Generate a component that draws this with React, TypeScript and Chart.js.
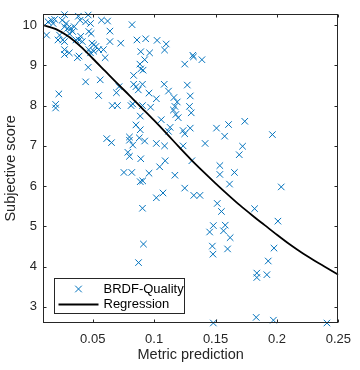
import React, { useEffect, useRef } from "react";
import { Chart, registerables } from "chart.js";

Chart.register(...registerables);

// ---- data ----
const metricPrediction = [
  0.0124, 0.0137, 0.0164, 0.019, 0.0177, 0.027, 0.0251, 0.0283, 0.027, 0.0296,
  0.0323, 0.0336, 0.0309, 0.0349, 0.0383, 0.0397, 0.0463, 0.0442, 0.0482, 0.0468,
  0.0487, 0.0402, 0.0389, 0.0415, 0.023, 0.0217, 0.0256, 0.027, 0.027, 0.0309,
  0.0389, 0.0375, 0.0494, 0.0508, 0.0526, 0.0548, 0.0508, 0.0482, 0.0587, 0.0601,
  0.0463, 0.0561, 0.0548, 0.0442, 0.0224, 0.0198, 0.0198, 0.0621, 0.064, 0.064,
  0.0659, 0.0701, 0.0693, 0.0571, 0.0363, 0.0468, 0.027,
  0.082, 0.0728, 0.086, 0.0931, 0.1024, 0.1098, 0.1085, 0.0891, 0.0963, 0.0923,
  0.0884, 0.0891, 0.091, 0.0833, 0.1315, 0.132, 0.1249, 0.1389, 0.0833, 0.0852,
  0.0905, 0.0871, 0.0714, 0.1082, 0.0958, 0.1117, 0.127, 0.1018, 0.1161, 0.1294,
  0.0826, 0.0812, 0.0905, 0.0971, 0.1188, 0.1169, 0.1288,
  0.1157, 0.1177, 0.1196, 0.1302, 0.0887, 0.1058, 0.0852, 0.0887, 0.113, 0.1117,
  0.1236, 0.1249, 0.1294, 0.0799, 0.0799, 0.0879, 0.0923, 0.0826, 0.1018, 0.1085,
  0.1236, 0.1415, 0.0786, 0.0799, 0.0891, 0.109, 0.1045, 0.1307, 0.0754, 0.0818,
  0.0958, 0.1169, 0.0887, 0.0907, 0.1249, 0.1072, 0.1018, 0.1323, 0.1373, 0.0905,
  0.0614, 0.0653,
  0.1508, 0.1606, 0.1574, 0.1738, 0.1963, 0.172, 0.1693, 0.1535, 0.1535, 0.1654,
  0.1614, 0.2035, 0.1514, 0.1548, 0.1818, 0.2008, 0.1579, 0.1565, 0.1619, 0.1598,
  0.1976, 0.1929, 0.1918, 0.1836, 0.1836, 0.1831, 0.1971, 0.2407,
  0.0913, 0.0873, 0.1482, 0.1452, 0.1474, 0.1479, 0.1482,
];
const subjectiveScore = [
  9.75, 10.08, 10.12, 10.14, 10.04, 10.26, 10.12, 10.04, 9.96, 9.92,
  9.92, 9.84, 9.79, 9.96, 10.22, 10.12, 10.25, 10.08, 10.04, 9.84,
  9.79, 9.72, 9.63, 9.59, 9.75, 9.63, 9.63, 9.39, 9.27, 9.31,
  9.23, 9.19, 9.55, 9.51, 9.47, 9.39, 9.35, 9.31, 9.39, 9.19,
  8.95, 8.64, 8.25, 8.59, 8.29, 8.03, 7.94, 10.1, 9.85, 9.59,
  8.0, 8.0, 8.32, 10.12, 9.63, 9.39, 9.59,
  10.01, 9.55, 9.63, 9.66, 9.62, 9.53, 9.38, 9.34, 9.31, 9.14,
  9.03, 8.91, 8.88, 8.75, 9.25, 9.21, 9.03, 9.14, 8.53, 8.47,
  8.53, 8.39, 8.47, 8.53, 8.31, 8.36, 8.51, 8.17, 8.2, 8.24,
  8.04, 8.0, 8.0, 7.96, 8.09, 7.98, 7.98,
  7.89, 7.78, 7.7, 7.82, 7.74, 7.65, 7.52, 7.4, 7.46, 7.36,
  7.38, 7.3, 7.44, 7.22, 7.14, 7.2, 7.12, 7.02, 7.06, 7.0,
  7.0, 7.06, 6.84, 6.74, 6.68, 6.63, 6.48, 6.63, 6.34, 6.34,
  6.32, 6.27, 6.11, 6.13, 5.95, 5.83, 5.71, 5.77, 5.77, 5.45,
  7.18, 7.08,
  7.44, 7.53, 7.24, 7.61, 7.28, 6.99, 6.78, 6.51, 6.29, 6.34,
  6.05, 5.98, 5.57, 5.37, 5.44, 5.13, 5.03, 4.89, 4.72, 4.44,
  4.46, 4.14, 3.8, 3.84, 3.73, 2.74, 2.67, 2.6,
  4.56, 4.1, 5.02, 4.86, 4.51, 4.31, 2.6,
];
const regressionX = [
  0.0095, 0.02, 0.03, 0.04, 0.05, 0.06, 0.07, 0.08, 0.09, 0.1, 0.11, 0.12, 0.13,
  0.14, 0.15, 0.16, 0.17, 0.18, 0.19, 0.2, 0.21, 0.22, 0.23, 0.24, 0.25,
];
const regressionY = [
  10.0, 9.9, 9.72, 9.47, 9.17, 8.86, 8.55, 8.25, 7.94, 7.63, 7.31, 6.98, 6.66,
  6.36, 6.07, 5.79, 5.52, 5.27, 5.03, 4.79, 4.56, 4.35, 4.16, 3.98, 3.8,
];

const xTicks = [0.05, 0.1, 0.15, 0.2, 0.25];
const yTicks = [3, 4, 5, 6, 7, 8, 9, 10];
const seriesNames = ["BRDF-Quality", "Regression"];
const axisTitles = { x: "Metric prediction", y: "Subjective score" };

const BLUE = "#0072BD";
const AXIS = "#262626";
const FONT = "'Liberation Sans', Arial, Helvetica, sans-serif";

const axesBoxPlugin = {
  id: "axesBox",
  afterDatasetsDraw(chart: any) {
    const { ctx, chartArea: a, scales } = chart;
    ctx.save();
    ctx.strokeStyle = AXIS;
    ctx.lineWidth = 1;
    const L = Math.round(a.left) + 0.5;
    const R = Math.round(a.right) - 0.5;
    const T = Math.round(a.top) + 0.5;
    const B = Math.round(a.bottom) - 0.5;
    ctx.strokeRect(L, T, R - L, B - T);
    const tl = 3;
    ctx.beginPath();
    xTicks.forEach((v) => {
      const x = Math.round(scales.x.getPixelForValue(v)) + 0.5;
      ctx.moveTo(x, B);
      ctx.lineTo(x, B - tl);
      ctx.moveTo(x, T);
      ctx.lineTo(x, T + tl);
    });
    yTicks.forEach((v) => {
      const y = Math.round(scales.y.getPixelForValue(v)) + 0.5;
      ctx.moveTo(L, y);
      ctx.lineTo(L + tl, y);
      ctx.moveTo(R, y);
      ctx.lineTo(R - tl, y);
    });
    ctx.stroke();

    // legend box (inside, lower-left)
    const bx = Math.round(a.left) + 11.5;
    const bw = 130;
    const bh = 35;
    const by = Math.round(a.bottom) - 9.5 - bh;
    ctx.fillStyle = "#ffffff";
    ctx.fillRect(bx, by, bw, bh);
    ctx.strokeStyle = AXIS;
    ctx.lineWidth = 1;
    ctx.strokeRect(bx, by, bw, bh);

    const r1 = by + 10.5;
    const r2 = by + 26;
    ctx.strokeStyle = BLUE;
    ctx.lineWidth = 1;
    ctx.beginPath();
    const mx = bx + 24;
    const d = 3.3;
    ctx.moveTo(mx - d, r1 - d);
    ctx.lineTo(mx + d, r1 + d);
    ctx.moveTo(mx - d, r1 + d);
    ctx.lineTo(mx + d, r1 - d);
    ctx.stroke();
    ctx.strokeStyle = "#000";
    ctx.lineWidth = 1.8;
    ctx.beginPath();
    ctx.moveTo(bx + 4, r2);
    ctx.lineTo(bx + 44, r2);
    ctx.stroke();

    ctx.fillStyle = "#000";
    ctx.font = `13px ${FONT}`;
    ctx.textBaseline = "middle";
    ctx.textAlign = "left";
    ctx.fillText(seriesNames[0], bx + 49, r1);
    ctx.fillText(seriesNames[1], bx + 49, r2);
    ctx.restore();
  },
};

export default function App() {
  const ref = useRef<HTMLCanvasElement | null>(null);

  useEffect(() => {
    document.body.style.margin = "0";
    const canvas = ref.current;
    if (!canvas) return;
    const scatterPts = metricPrediction.map((x, i) => ({ x, y: subjectiveScore[i] }));
    const regPts = regressionX.map((x, i) => ({ x, y: regressionY[i] }));

    const chart = new Chart(canvas, {
      type: "scatter",
      data: {
        datasets: [
          {
            label: seriesNames[0],
            data: scatterPts,
            pointStyle: "crossRot",
            pointRadius: 4.6,
            pointHoverRadius: 4.6,
            borderColor: BLUE,
            backgroundColor: BLUE,
            borderWidth: 1,
            clip: false as any,
            order: 2,
          },
          {
            label: seriesNames[1],
            data: regPts,
            showLine: true,
            pointRadius: 0,
            borderColor: "#000",
            backgroundColor: "#000",
            borderWidth: 1.8,
            cubicInterpolationMode: "monotone",
            order: 1,
          } as any,
        ],
      },
      options: {
        responsive: false,
        animation: false,
        events: [],
        layout: { padding: { top: 5, right: 13, left: 0, bottom: 0 } },
        plugins: {
          legend: { display: false },
          tooltip: { enabled: false },
        },
        scales: {
          x: {
            type: "linear",
            min: 0.0095,
            max: 0.25,
            grid: { display: false, drawTicks: false },
            border: { display: false },
            afterBuildTicks: (s: any) => {
              s.ticks = xTicks.map((v) => ({ value: v }));
            },
            afterFit: (s: any) => {
              s.height = 47;
            },
            ticks: {
              padding: 9,
              color: AXIS,
              font: { family: FONT, size: 13 },
              maxRotation: 0,
              callback: (v: any) => String(v),
            },
            title: {
              display: true,
              text: axisTitles.x,
              color: AXIS,
              font: { family: FONT, size: 14.5 },
              padding: { top: 0, bottom: 6 },
            },
          },
          y: {
            type: "linear",
            min: 2.6,
            max: 10.28,
            grid: { display: false, drawTicks: false },
            border: { display: false },
            afterBuildTicks: (s: any) => {
              s.ticks = yTicks.map((v) => ({ value: v }));
            },
            afterFit: (s: any) => {
              s.width = 43;
            },
            ticks: {
              padding: 6,
              color: AXIS,
              font: { family: FONT, size: 13 },
              callback: (v: any) => String(v),
            },
            title: {
              display: true,
              text: axisTitles.y,
              color: AXIS,
              font: { family: FONT, size: 14.5 },
              padding: { top: 2, bottom: 0 },
            },
          },
        },
      },
      plugins: [axesBoxPlugin],
    });
    return () => chart.destroy();
  }, []);

  return (
    <div style={{ width: 360, height: 370 }}>
      <canvas ref={ref} width={360} height={370} style={{ display: "block", width: 360, height: 370 }} />
    </div>
  );
}
